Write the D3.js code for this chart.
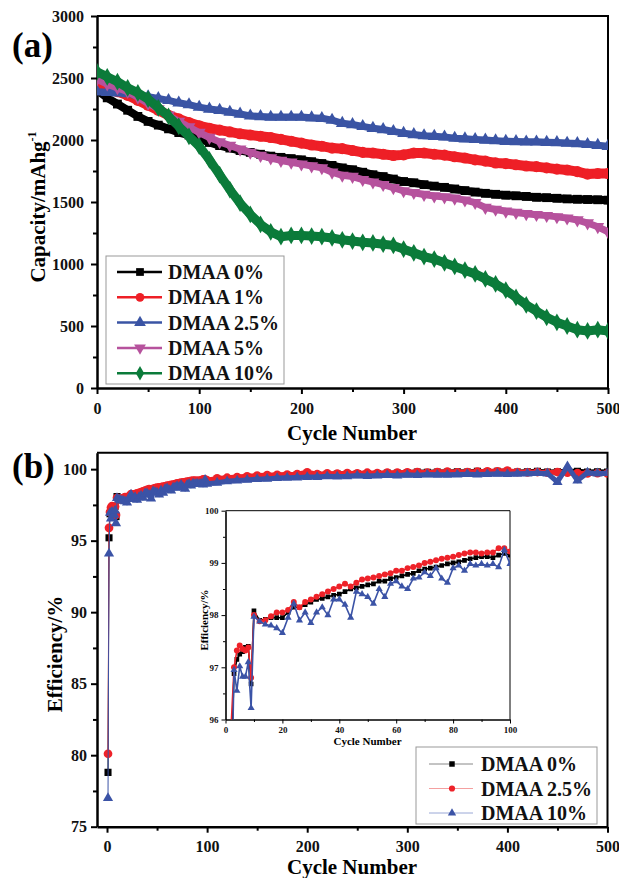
<html>
    <head>
        <meta charset="utf-8">
        <style>
            body { margin: 0; background: #fff; }
            text { font-family: "Liberation Serif", "Times New Roman", serif; font-weight: bold; }
        </style>
    </head>
    <body>
        <script src="https://d3js.org/d3.v7.min.js"></script>
        <div id="my_dataviz"></div>

        <script type='text/JavaScript'>

            // ---- panel (a): capacity vs cycle ----
            var cyclesA = [0,10,20,30,40,50,60,70,80,90,100,110,120,130,140,150,160,170,180,190,200,
                210,220,230,240,250,260,270,280,290,300,310,320,330,340,350,360,370,380,390,400,
                410,420,430,440,450,460,470,480,490,500];

            var cap0 = [2400,2340,2290,2240,2190,2150,2120,2090,2060,2040,2010,1980,1955,1935,1915,1900,1885,1870,1860,1850,1840,
                1825,1810,1795,1775,1760,1740,1720,1705,1685,1665,1655,1640,1628,1618,1605,1592,1580,1570,1562,1555,
                1550,1545,1538,1535,1530,1525,1522,1520,1518,1515];
            var cap1 = [2440,2420,2390,2360,2320,2280,2240,2200,2170,2140,2115,2095,2080,2065,2050,2040,2030,2020,2005,1990,1975,
                1960,1950,1935,1930,1915,1900,1895,1885,1875,1880,1895,1895,1885,1878,1865,1855,1840,1830,1815,1810,
                1800,1790,1785,1775,1765,1758,1745,1725,1730,1730];
            var cap25 = [2390,2385,2380,2375,2365,2350,2335,2320,2300,2285,2265,2250,2240,2225,2210,2195,2190,2185,2185,2185,2185,
                2180,2175,2160,2135,2125,2110,2095,2085,2070,2055,2045,2035,2030,2025,2015,2010,2005,2000,1995,1990,
                1988,1985,1985,1982,1980,1975,1972,1965,1958,1950];
            var cap5 = [2490,2450,2420,2390,2345,2295,2250,2200,2150,2105,2060,2020,1985,1955,1925,1900,1875,1855,1835,1820,1805,
                1790,1775,1740,1715,1705,1680,1660,1640,1615,1590,1575,1560,1548,1540,1530,1515,1495,1455,1440,1425,
                1415,1405,1398,1390,1380,1370,1355,1330,1300,1260];
            var cap10 = [2550,2510,2470,2420,2380,2330,2260,2190,2110,2030,1950,1840,1720,1600,1490,1400,1320,1260,1220,1230,1230,
                1225,1220,1210,1195,1185,1175,1170,1160,1150,1120,1090,1060,1040,1010,980,950,920,880,840,790,
                730,670,620,570,530,500,470,460,470,460];

            var namesA = ["DMAA 0%", "DMAA 1%", "DMAA 2.5%", "DMAA 5%", "DMAA 10%"];

            // ---- panel (b): coulombic efficiency vs cycle ----
            var cyclesB = [1,2,3,4,5,6,7,8,9,10,
                12,14,16,18,20,22,24,26,28,30,32,34,36,38,40,42,44,46,48,50,
                52,54,56,58,60,62,64,66,68,70,72,74,76,78,80,82,84,86,88,90,92,94,96,98,100,
                110,120,130,140,150,160,170,180,190,200,210,220,230,240,250,260,270,280,290,300,
                310,320,330,340,350,360,370,380,390,400,410,420,430,440,450,460,470,480,490,500];

            var eff0 = [78.8,95.2,96.88,97.15,97.25,97.3,97.38,97.4,96.68,98.08,
                97.9,97.92,97.95,97.95,97.95,98.05,98.15,98.15,98.2,98.25,98.3,98.32,98.35,98.38,98.4,
                98.45,98.5,98.52,98.55,98.58,98.6,98.65,98.65,98.7,98.72,98.75,98.78,98.8,98.85,98.88,
                98.9,98.92,98.95,98.98,99.0,99.02,99.05,99.08,99.1,99.12,99.12,99.1,99.15,99.18,99.15,
                99.2,99.3,99.35,99.4,99.45,99.5,99.5,99.55,99.6,99.6,99.6,99.62,99.65,99.65,99.68,99.7,99.7,99.72,99.72,99.75,
                99.8,99.78,99.8,99.8,99.82,99.8,99.85,99.82,99.85,99.85,99.8,99.82,99.85,99.8,99.82,99.85,99.85,99.8,99.82,99.8];
            var eff25 = [80.1,95.9,97.0,97.32,97.42,97.35,97.32,97.38,96.8,98.0,
                97.88,97.9,97.98,98.05,98.05,98.1,98.25,98.15,98.25,98.3,98.35,98.4,98.45,98.5,98.55,
                98.6,98.55,98.62,98.68,98.7,98.72,98.75,98.78,98.8,98.85,98.85,98.9,98.92,98.95,99.0,
                99.02,99.05,99.08,99.1,99.12,99.15,99.18,99.2,99.2,99.18,99.2,99.2,99.28,99.28,99.22,
                99.35,99.4,99.45,99.5,99.55,99.58,99.6,99.62,99.65,99.78,99.65,99.7,99.68,99.72,99.7,99.75,99.72,99.75,99.75,99.78,
                99.8,99.75,99.8,99.82,99.78,99.8,99.82,99.85,99.85,99.9,99.8,99.78,99.8,99.75,99.8,99.75,99.72,99.7,99.72,99.7];
            var eff10 = [77.0,94.1,96.95,96.55,97.02,96.82,96.82,97.1,96.22,97.97,
                97.88,97.82,97.8,97.75,97.66,97.95,98.22,97.9,98.05,97.85,98.05,98.15,98.0,98.3,98.3,
                98.2,97.95,98.45,98.4,98.35,98.22,98.5,98.35,98.6,98.65,98.55,98.5,98.7,98.72,98.82,
                98.75,98.9,98.7,98.62,98.9,98.95,98.85,98.98,98.95,98.98,98.95,98.98,98.92,99.25,98.98,
                99.05,99.15,99.2,99.25,99.3,99.32,99.38,99.4,99.42,99.45,99.45,99.5,99.48,99.5,99.55,99.52,99.55,99.58,99.55,99.6,
                99.58,99.62,99.6,99.6,99.62,99.65,99.62,99.65,99.68,99.65,99.68,99.7,99.72,99.7,99.1,100.2,99.2,99.75,99.7,99.72];

            var namesB = ["DMAA 0%", "DMAA 2.5%", "DMAA 10%"];

            var svg = d3.select("#my_dataviz")
                .append("svg")
                    .attr("width", 619)
                    .attr("height", 878);

            var triDown = { draw: function(ctx, size) {
                var s = Math.sqrt(size / 0.433) / 2;
                ctx.moveTo(-s, -s * 0.577); ctx.lineTo(s, -s * 0.577); ctx.lineTo(0, s * 1.155); ctx.closePath();
            } };

            // draws left/bottom axes with major + minor ticks and a thin top/right frame
            function drawFrame(g, x, y, o) {
                var x0 = x.range()[0], x1 = x.range()[1], y0 = y.range()[0], y1 = y.range()[1];
                g.append("g").attr("transform", "translate(0," + y0 + ")")
                    .call(d3.axisBottom(x).tickValues(o.xMinor).tickSize(o.minor).tickSizeOuter(0).tickFormat(""))
                    .select(".domain").remove();
                g.append("g").attr("transform", "translate(" + x0 + ",0)")
                    .call(d3.axisLeft(y).tickValues(o.yMinor).tickSize(o.minor).tickSizeOuter(0).tickFormat(""))
                    .select(".domain").remove();
                var ax = g.append("g").attr("transform", "translate(0," + y0 + ")")
                    .call(d3.axisBottom(x).tickValues(o.xTicks).tickSize(o.major).tickSizeOuter(0)
                        .tickPadding(o.xPad).tickFormat(d3.format("d")));
                var ay = g.append("g").attr("transform", "translate(" + x0 + ",0)")
                    .call(d3.axisLeft(y).tickValues(o.yTicks).tickSize(o.major).tickSizeOuter(0)
                        .tickPadding(o.yPad).tickFormat(d3.format("d")));
                [ax, ay].forEach(function(a) {
                    a.attr("font-family", null).attr("font-size", o.font);
                    a.selectAll("text").attr("fill", "#111");
                });
                g.selectAll(".tick line").attr("stroke", "#000").attr("stroke-width", o.tickW);
                g.selectAll(".domain").attr("stroke", "#000").attr("stroke-width", o.axisW);
                g.append("path")
                    .attr("d", "M" + x0 + "," + y1 + "H" + x1 + "V" + y0)
                    .attr("fill", "none").attr("stroke", "#000").attr("stroke-width", o.frameW);
            }

            // ================= panel (a) =================
            var xA = d3.scaleLinear().domain([0, 500]).range([97, 608]);
            var yA = d3.scaleLinear().domain([0, 3000]).range([388, 16]);
            var gA = svg.append("g");

            drawFrame(gA, xA, yA, {
                xTicks: [0, 100, 200, 300, 400, 500], xMinor: [50, 150, 250, 350, 450],
                yTicks: [0, 500, 1000, 1500, 2000, 2500, 3000], yMinor: [250, 750, 1250, 1750, 2250, 2750],
                major: 6, minor: 4, xPad: 9, yPad: 7, font: 16, tickW: 2, axisW: 2.5, frameW: 2
            });

            svg.append("defs").append("clipPath").attr("id", "clipA")
                .append("rect").attr("x", 97).attr("y", 16).attr("width", 511).attr("height", 372);

            var seriesA = [
                {name: namesA[0], values: cap0,  color: "#000000", symbol: d3.symbolSquare,   w: 8,  size: 60},
                {name: namesA[1], values: cap1,  color: "#ee1f26", symbol: d3.symbolCircle,   w: 10, size: 75},
                {name: namesA[2], values: cap25, color: "#3a54a4", symbol: d3.symbolTriangle, w: 7,  size: 55},
                {name: namesA[3], values: cap5,  color: "#b6529d", symbol: triDown,           w: 7,  size: 55},
                {name: namesA[4], values: cap10, color: "#0b7b3a", symbol: d3.symbolDiamond,  w: 9,  size: 70}
            ];

            var plotA = gA.append("g").attr("clip-path", "url(#clipA)");
            seriesA.forEach(function(s) {
                var pts = cyclesA.map(function(c, i) { return [c, s.values[i]]; });
                plotA.append("path")
                    .datum(pts)
                    .attr("fill", "none")
                    .attr("stroke", s.color)
                    .attr("stroke-width", s.w)
                    .attr("stroke-linejoin", "round")
                    .attr("d", d3.line().x(function(d) { return xA(d[0]); }).y(function(d) { return yA(d[1]); }));
                plotA.selectAll(null)
                    .data(pts)
                    .enter()
                    .append("path")
                    .attr("transform", function(d) { return "translate(" + xA(d[0]) + "," + yA(d[1]) + ")"; })
                    .attr("d", d3.symbol().type(s.symbol).size(s.size * 1.3))
                    .attr("fill", s.color);
            });

            // legend (a)
            var legA = gA.append("g");
            legA.append("rect").attr("x", 106).attr("y", 256).attr("width", 178).attr("height", 128)
                .attr("fill", "#fff").attr("stroke", "#999").attr("stroke-width", 1);
            seriesA.forEach(function(s, i) {
                var ly = 272 + i * 25.3;
                legA.append("line").attr("x1", 117).attr("x2", 162).attr("y1", ly).attr("y2", ly)
                    .attr("stroke", s.color).attr("stroke-width", 2.5);
                legA.append("path").attr("transform", "translate(140," + ly + ")")
                    .attr("d", d3.symbol().type(s.symbol).size(60)).attr("fill", s.color);
                legA.append("text").attr("x", 168).attr("y", ly).attr("dy", "0.35em")
                    .attr("font-size", 20).attr("fill", "#111").text(s.name);
            });

            gA.append("text").attr("x", 12).attr("y", 57).attr("font-size", 35).text("(a)");
            gA.append("text").attr("x", 352).attr("y", 440).attr("text-anchor", "middle")
                .attr("font-size", 21).text("Cycle Number");
            var tA = gA.append("text").attr("transform", "translate(45,207) rotate(-90)")
                .attr("text-anchor", "middle").attr("font-size", 21);
            tA.append("tspan").text("Capacity/mAhg");
            tA.append("tspan").attr("font-size", 12).attr("dy", -9).text("-1");

            // ================= panel (b) =================
            var xB = d3.scaleLinear().domain([-10, 500]).range([97, 607.5]);
            var yB = d3.scaleLinear().domain([75, 101.15]).range([826.7, 452.7]);
            var gB = svg.append("g");

            drawFrame(gB, xB, yB, {
                xTicks: [0, 100, 200, 300, 400, 500], xMinor: [50, 150, 250, 350, 450],
                yTicks: [75, 80, 85, 90, 95, 100], yMinor: [77.5, 82.5, 87.5, 92.5, 97.5],
                major: 6, minor: 4, xPad: 8, yPad: 4, font: 16, tickW: 2, axisW: 2.5, frameW: 2
            });

            svg.append("defs").append("clipPath").attr("id", "clipB")
                .append("rect").attr("x", 97).attr("y", 452.7).attr("width", 510.5).attr("height", 374);

            var seriesB = [
                {name: namesB[0], values: eff0,  color: "#000000", light: "#888888", symbol: d3.symbolSquare,   size: 50, isize: 22},
                {name: namesB[1], values: eff25, color: "#ee2229", light: "#f4a0a0", symbol: d3.symbolCircle,   size: 60, isize: 28},
                {name: namesB[2], values: eff10, color: "#3b53a6", light: "#9aa8d6", symbol: d3.symbolTriangle, size: 45, isize: 22}
            ];

            var plotB = gB.append("g").attr("clip-path", "url(#clipB)");
            seriesB.forEach(function(s) {
                var pts = cyclesB.map(function(c, i) { return [c, s.values[i]]; });
                var line = d3.line().x(function(d) { return xB(d[0]); }).y(function(d) { return yB(d[1]); });
                plotB.append("path").datum(pts).attr("fill", "none")
                    .attr("stroke", s.color).attr("stroke-width", 1).attr("d", line);
                plotB.append("path").datum(pts.filter(function(d) { return d[0] >= 10; })).attr("fill", "none")
                    .attr("stroke", s.color).attr("stroke-width", 5).attr("stroke-linejoin", "round").attr("d", line);
                plotB.selectAll(null).data(pts).enter().append("path")
                    .attr("transform", function(d) { return "translate(" + xB(d[0]) + "," + yB(d[1]) + ")"; })
                    .attr("d", d3.symbol().type(s.symbol).size(s.size))
                    .attr("fill", s.color);
            });

            // inset: first 100 cycles
            var xI = d3.scaleLinear().domain([0, 100]).range([225.5, 510]);
            var yI = d3.scaleLinear().domain([96, 100]).range([719.5, 510.7]);
            var gI = gB.append("g");

            drawFrame(gI, xI, yI, {
                xTicks: [0, 20, 40, 60, 80, 100], xMinor: [10, 30, 50, 70, 90],
                yTicks: [96, 97, 98, 99, 100], yMinor: [96.5, 97.5, 98.5, 99.5],
                major: 4, minor: 2.5, xPad: 3, yPad: 3, font: 9, tickW: 1, axisW: 1.6, frameW: 1
            });

            svg.append("defs").append("clipPath").attr("id", "clipI")
                .append("rect").attr("x", 225.5).attr("y", 510.7).attr("width", 284.5).attr("height", 208.8);

            var plotI = gI.append("g").attr("clip-path", "url(#clipI)");
            seriesB.forEach(function(s) {
                var pts = cyclesB.map(function(c, i) { return [c, s.values[i]]; })
                    .filter(function(d) { return d[0] <= 100; });
                plotI.append("path").datum(pts).attr("fill", "none")
                    .attr("stroke", s.color).attr("stroke-width", 1.6).attr("stroke-linejoin", "round")
                    .attr("d", d3.line().x(function(d) { return xI(d[0]); }).y(function(d) { return yI(d[1]); }));
                plotI.selectAll(null).data(pts).enter().append("path")
                    .attr("transform", function(d) { return "translate(" + xI(d[0]) + "," + yI(d[1]) + ")"; })
                    .attr("d", d3.symbol().type(s.symbol).size(s.isize))
                    .attr("fill", s.color);
            });

            gI.append("text").attr("x", 367.5).attr("y", 745).attr("text-anchor", "middle")
                .attr("font-size", 11).text("Cycle Number");
            gI.append("text").attr("transform", "translate(208,620) rotate(-90)")
                .attr("text-anchor", "middle").attr("font-size", 11).text("Efficiency/%");

            // legend (b)
            var legB = gB.append("g");
            legB.append("rect").attr("x", 416).attr("y", 747).attr("width", 181).attr("height", 77)
                .attr("fill", "#fff").attr("stroke", "#999").attr("stroke-width", 1);
            seriesB.forEach(function(s, i) {
                var ly = 764 + i * 24.5;
                legB.append("line").attr("x1", 429).attr("x2", 473).attr("y1", ly).attr("y2", ly)
                    .attr("stroke", s.light).attr("stroke-width", 1);
                legB.append("path").attr("transform", "translate(452," + ly + ")")
                    .attr("d", d3.symbol().type(s.symbol).size(30)).attr("fill", s.color);
                legB.append("text").attr("x", 481).attr("y", ly).attr("dy", "0.35em")
                    .attr("font-size", 20).attr("fill", "#111").text(s.name);
            });

            gB.append("text").attr("x", 12).attr("y", 478).attr("font-size", 35).text("(b)");
            gB.append("text").attr("x", 352).attr("y", 874).attr("text-anchor", "middle")
                .attr("font-size", 21).text("Cycle Number");
            gB.append("text").attr("transform", "translate(62,654) rotate(-90)")
                .attr("text-anchor", "middle").attr("font-size", 21).text("Efficiency/%");
        </script>
    </body>
</html>
